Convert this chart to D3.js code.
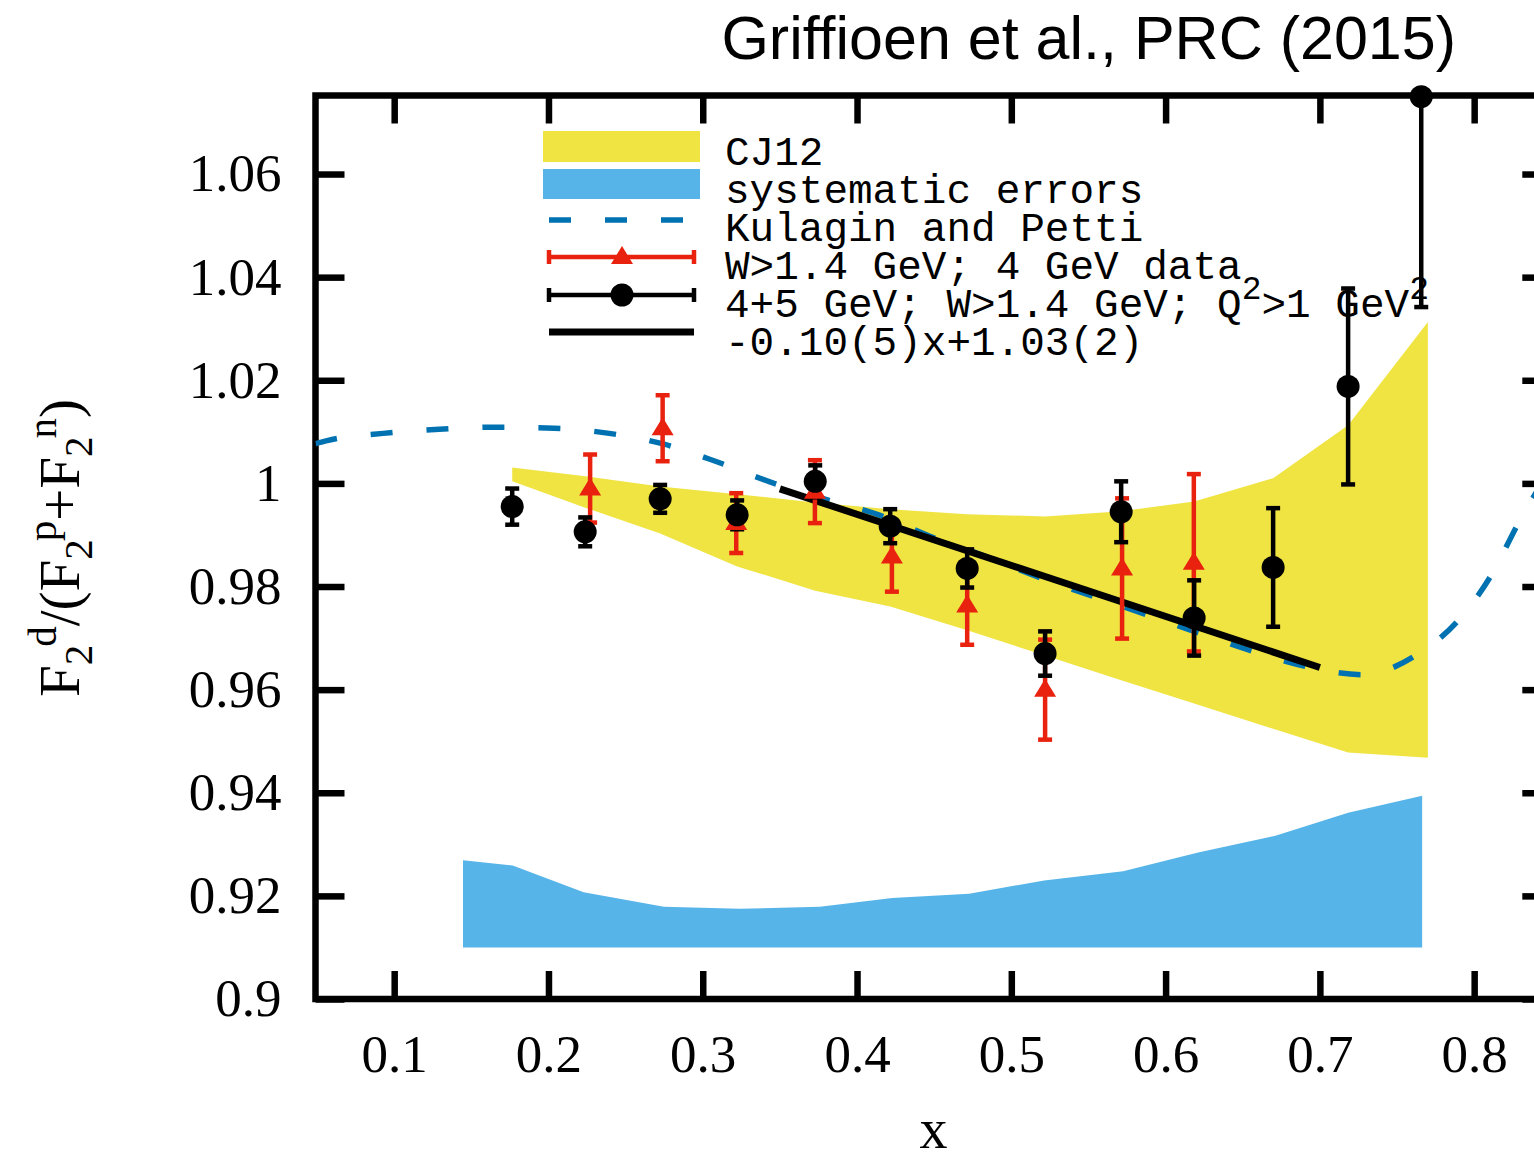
<!DOCTYPE html>
<html>
<head>
<meta charset="utf-8">
<script src="https://cdn.jsdelivr.net/npm/d3@7"></script>
<style>
  body { margin: 0; background: #ffffff; }
</style>
</head>
<body>
<svg id="chart" width="1534" height="1156"></svg>
<script>
// ---- CJ12 band (lower / upper edge of F2d/(F2p+F2n)) ----
const cj12X     = [0.1765, 0.2238, 0.2724, 0.3223, 0.3729, 0.4215, 0.4714, 0.5219, 0.5712, 0.6185, 0.6697, 0.7183, 0.770];
const cj12Upper = [1.0031, 1.0014, 0.9994, 0.9979, 0.9963, 0.9950, 0.9940, 0.9936, 0.9946, 0.9965, 1.0010, 1.0113, 1.0313];
const cj12Lower = [1.0004, 0.9953, 0.9903, 0.9839, 0.9792, 0.9761, 0.9715, 0.9666, 0.9618, 0.9573, 0.9524, 0.9478, 0.9468];

// ---- systematic error band, drawn up from a fixed base ----
const systX    = [0.1446, 0.1768, 0.2228, 0.2748, 0.3238, 0.3759, 0.4228, 0.4727, 0.5213, 0.5725, 0.6211, 0.6717, 0.7183, 0.7663];
const systTop  = [0.9269, 0.9259, 0.9207, 0.9179, 0.9175, 0.9179, 0.9196, 0.9204, 0.9230, 0.9248, 0.9284, 0.9317, 0.9361, 0.9394];
const systBase = 0.91;

// ---- Kulagin and Petti model curve ----
const kpX = [0.049, 0.0566, 0.0929, 0.1292, 0.1661, 0.2037, 0.2394, 0.2750, 0.3100, 0.3444, 0.3819, 0.4150, 0.4494,
             0.4818, 0.5187, 0.5706, 0.6224, 0.6568, 0.6937, 0.7281, 0.7618, 0.7896, 0.8117, 0.8285, 0.8500];
const kpY = [1.0077, 1.0083, 1.0097, 1.0105, 1.0109, 1.0107, 1.0097, 1.0076, 1.0041, 1.0002, 0.9967, 0.9938, 0.9895,
             0.9860, 0.9817, 0.9763, 0.9709, 0.9674, 0.9643, 0.9629, 0.9666, 0.9734, 0.9825, 0.9922, 1.0030];

// ---- W>1.4 GeV; 4 GeV data ----
const w4X   = [0.2270, 0.2740, 0.3217, 0.3727, 0.4226, 0.4714, 0.5219, 0.5718, 0.6183];
const w4Y   = [0.9990, 1.0107, 0.9923, 0.9984, 0.9858, 0.9763, 0.9600, 0.9835, 0.9846];
const w4Err = [0.0066, 0.0064, 0.0058, 0.0061, 0.0068, 0.0076, 0.0097, 0.0136, 0.0172];

// ---- 4+5 GeV; W>1.4 GeV; Q^2>1 GeV^2 ----
const comboX   = [0.1765, 0.2238, 0.2724, 0.3223, 0.3729, 0.4215, 0.4714, 0.5219, 0.5712, 0.6185, 0.6697, 0.7183, 0.7657];
const comboY   = [0.9955, 0.9906, 0.9970, 0.9939, 1.0004, 0.9917, 0.9835, 0.9670, 0.9945, 0.9739, 0.9837, 1.0188, 1.0750];
const comboErr = [0.0035, 0.0028, 0.0027, 0.0028, 0.0031, 0.0033, 0.0037, 0.0043, 0.0059, 0.0073, 0.0115, 0.0190, 0.0408];

// ---- linear fit to the 4+5 GeV points ----
const fitSlope = -0.099, fitSlopeErr = 0.05;
const fitIntercept = 1.0336, fitInterceptErr = 0.02;
const fitRange = [0.35, 0.70];

// ---- axes ----
const xTicks = [0.1, 0.2, 0.3, 0.4, 0.5, 0.6, 0.7, 0.8];
const xTickLabels = ["0.1", "0.2", "0.3", "0.4", "0.5", "0.6", "0.7", "0.8"];
const yTicks = [0.9, 0.92, 0.94, 0.96, 0.98, 1.0, 1.02, 1.04, 1.06];
const yTickLabels = ["0.9", "0.92", "0.94", "0.96", "0.98", "1", "1.02", "1.04", "1.06"];

const COLORS = { cj12: "#f0e442", syst: "#56b4e9", kp: "#0072b2", w4: "#e8220f", combo: "#000000" };
const SERIF = "'Liberation Serif', 'Times New Roman', Times, serif";
const MONO = "'Liberation Mono', 'Courier New', monospace";

const svg = d3.select("#chart");
const plot = { left: 315.5, right: 1551.3, top: 95.5, bottom: 999 };

const x = d3.scaleLinear().domain([0.049, 0.85]).range([plot.left, plot.right]);
const y = d3.scaleLinear().domain([0.9, 1.07523]).range([plot.bottom, plot.top]);

svg.append("defs").append("clipPath").attr("id", "plotClip")
  .append("rect")
  .attr("x", plot.left).attr("y", plot.top)
  .attr("width", plot.right - plot.left).attr("height", plot.bottom - plot.top);

const layer = svg.append("g");
const clipped = layer.append("g").attr("clip-path", "url(#plotClip)");

// CJ12 band
const cj12 = cj12X.map((d, i) => ({ x: d, lo: cj12Lower[i], hi: cj12Upper[i] }));
clipped.append("path")
  .datum(cj12)
  .attr("fill", COLORS.cj12)
  .attr("d", d3.area().x(d => x(d.x)).y0(d => y(d.lo)).y1(d => y(d.hi)));

// systematic error band
const syst = systX.map((d, i) => ({ x: d, top: systTop[i] }));
clipped.append("path")
  .datum(syst)
  .attr("fill", COLORS.syst)
  .attr("d", d3.area().x(d => x(d.x)).y0(y(systBase)).y1(d => y(d.top)));

// Kulagin and Petti curve
const kp = kpX.map((d, i) => ({ x: d, y: kpY[i] }));
clipped.append("path")
  .datum(kp)
  .attr("fill", "none")
  .attr("stroke", COLORS.kp)
  .attr("stroke-width", 5.5)
  .attr("stroke-dasharray", "22,34")
  .attr("d", d3.line().curve(d3.curveMonotoneX).x(d => x(d.x)).y(d => y(d.y)));

// linear fit
clipped.append("line")
  .attr("x1", x(fitRange[0])).attr("y1", y(fitSlope * fitRange[0] + fitIntercept))
  .attr("x2", x(fitRange[1])).attr("y2", y(fitSlope * fitRange[1] + fitIntercept))
  .attr("stroke", "#000").attr("stroke-width", 7);

// error bars helper
function errorBars(g, xs, ys, errs, color) {
  const data = xs.map((d, i) => ({ x: d, y: ys[i], e: errs[i] }));
  const eg = g.append("g").attr("stroke", color).attr("stroke-width", 4.5);
  eg.selectAll("line.bar").data(data).join("line").attr("class", "bar")
    .attr("x1", d => x(d.x)).attr("x2", d => x(d.x))
    .attr("y1", d => y(d.y - d.e)).attr("y2", d => y(d.y + d.e));
  eg.selectAll("line.lo").data(data).join("line").attr("class", "lo")
    .attr("x1", d => x(d.x) - 7).attr("x2", d => x(d.x) + 7)
    .attr("y1", d => y(d.y - d.e)).attr("y2", d => y(d.y - d.e));
  eg.selectAll("line.hi").data(data).join("line").attr("class", "hi")
    .attr("x1", d => x(d.x) - 7).attr("x2", d => x(d.x) + 7)
    .attr("y1", d => y(d.y + d.e)).attr("y2", d => y(d.y + d.e));
  return data;
}

const trianglePath = "M0,-11L11,7L-11,7Z";

// 4 GeV data
const w4 = errorBars(clipped, w4X, w4Y, w4Err, COLORS.w4);
layer.append("g").selectAll("path").data(w4).join("path")
  .attr("d", trianglePath)
  .attr("transform", d => `translate(${x(d.x)},${y(d.y)})`)
  .attr("fill", COLORS.w4);

// 4+5 GeV data
const combo = errorBars(clipped, comboX, comboY, comboErr, COLORS.combo);
layer.append("g").selectAll("circle").data(combo).join("circle")
  .attr("cx", d => x(d.x)).attr("cy", d => y(d.y)).attr("r", 11.5)
  .attr("fill", COLORS.combo);

// ---- frame and axes ----
function styleAxis(g) {
  g.select(".domain").remove();
  g.selectAll(".tick line").attr("stroke", "#000").attr("stroke-width", 6.5);
  g.selectAll(".tick text").attr("fill", "#000");
  g.attr("font-family", SERIF).attr("font-size", 53);
}

svg.append("g")
  .attr("transform", `translate(0,${plot.bottom})`)
  .call(d3.axisBottom(x).tickValues(xTicks).tickFormat((d, i) => xTickLabels[i])
    .tickSize(-28).tickSizeOuter(0).tickPadding(35))
  .call(styleAxis);

svg.append("g")
  .attr("transform", `translate(${plot.left},0)`)
  .call(d3.axisLeft(y).tickValues(yTicks).tickFormat((d, i) => yTickLabels[i])
    .tickSize(-29).tickSizeOuter(0).tickPadding(34))
  .call(styleAxis);

svg.append("g")
  .attr("transform", `translate(0,${plot.top})`)
  .call(d3.axisTop(x).tickValues(xTicks).tickFormat("").tickSize(-28).tickSizeOuter(0))
  .call(styleAxis);

svg.append("g")
  .attr("transform", `translate(${plot.right},0)`)
  .call(d3.axisRight(y).tickValues(yTicks).tickFormat("").tickSize(-29).tickSizeOuter(0))
  .call(styleAxis);

svg.append("rect")
  .attr("x", plot.left).attr("y", plot.top)
  .attr("width", plot.right - plot.left).attr("height", plot.bottom - plot.top)
  .attr("fill", "none").attr("stroke", "#000").attr("stroke-width", 6.5);

// last point sits on the top edge, drawn above the frame
layer.raise();

// ---- axis titles ----
svg.append("text")
  .attr("x", (plot.left + plot.right) / 2).attr("y", 1148)
  .attr("text-anchor", "middle")
  .attr("font-family", SERIF).attr("font-size", 56)
  .text("x");

const yTitle = svg.append("text")
  .attr("transform", "translate(79,548) rotate(-90)")
  .attr("text-anchor", "middle")
  .attr("font-family", SERIF).attr("font-size", 57);
const MAIN = 57, SCRIPT = 41;
[
  ["F", MAIN, 0, 0], ["2", SCRIPT, 13, 0], ["d", SCRIPT, -36, -2],
  ["/(", MAIN, 23, 0],
  ["F", MAIN, 0, 0], ["2", SCRIPT, 13, 0], ["p", SCRIPT, -36, -2],
  ["+", MAIN, 23, 0],
  ["F", MAIN, 0, 0], ["2", SCRIPT, 13, 0], ["n", SCRIPT, -36, -2],
  [")", MAIN, 23, 0]
].forEach(([t, fs, dy, dx]) => {
  yTitle.append("tspan").attr("font-size", fs).attr("dy", dy).attr("dx", dx).text(t);
});

// ---- title ----
svg.append("text")
  .attr("x", 1456).attr("y", 59)
  .attr("text-anchor", "end")
  .attr("font-family", "'Liberation Sans', Arial, Helvetica, sans-serif")
  .attr("font-size", 61)
  .text("Griffioen et al., PRC (2015)");

// ---- legend ----
const legend = svg.append("g");
const legX0 = 549, legX1 = 694, legMid = 622, textX = 725;
const rowY = i => 151 + 38 * i;     // sample centre line of each row
const baseY = i => 165 + 38 * i;    // text baseline of each row

legend.append("rect").attr("x", 543).attr("y", 131).attr("width", 157).attr("height", 31).attr("fill", COLORS.cj12);
legend.append("rect").attr("x", 543).attr("y", 169).attr("width", 157).attr("height", 30).attr("fill", COLORS.syst);
legend.append("line").attr("x1", legX0).attr("x2", 690).attr("y1", rowY(2) - 7).attr("y2", rowY(2) - 7)
  .attr("stroke", COLORS.kp).attr("stroke-width", 5.5).attr("stroke-dasharray", "22,34");

function legendErr(i, color) {
  const yy = rowY(i) - 8;
  const g = legend.append("g").attr("stroke", color).attr("stroke-width", 4.5);
  g.append("line").attr("x1", legX0).attr("x2", legX1).attr("y1", yy).attr("y2", yy);
  g.append("line").attr("x1", legX0).attr("x2", legX0).attr("y1", yy - 7).attr("y2", yy + 7);
  g.append("line").attr("x1", legX1).attr("x2", legX1).attr("y1", yy - 7).attr("y2", yy + 7);
  return yy;
}
const yRed = legendErr(3, COLORS.w4);
legend.append("path").attr("d", trianglePath).attr("transform", `translate(${legMid},${yRed})`).attr("fill", COLORS.w4);
const yBlack = legendErr(4, COLORS.combo);
legend.append("circle").attr("cx", legMid).attr("cy", yBlack).attr("r", 11.5).attr("fill", COLORS.combo);
legend.append("line").attr("x1", legX0).attr("x2", legX1).attr("y1", rowY(5) - 9).attr("y2", rowY(5) - 9)
  .attr("stroke", "#000").attr("stroke-width", 7);

const fmtErr = (v) => Math.round(v * 100);
const fitLabel = `${fitSlope.toFixed(2)}(${fmtErr(fitSlopeErr)})x+${fitIntercept.toFixed(2)}(${fmtErr(fitInterceptErr)})`;

const legendText = legend.append("g").attr("font-family", MONO).attr("font-size", 41).attr("fill", "#000");
legendText.append("text").attr("x", textX).attr("y", baseY(0)).text("CJ12");
legendText.append("text").attr("x", textX).attr("y", baseY(1)).text("systematic errors");
legendText.append("text").attr("x", textX).attr("y", baseY(2)).text("Kulagin and Petti");
legendText.append("text").attr("x", textX).attr("y", baseY(3)).text("W>1.4 GeV; 4 GeV data");
const row5 = legendText.append("text").attr("x", textX).attr("y", baseY(4)).attr("xml:space", "preserve");
row5.append("tspan").text("4+5 GeV; W>1.4 GeV; Q");
row5.append("tspan").attr("font-size", 33).attr("dy", -18).text("2");
row5.append("tspan").attr("dy", 18).text(">1 GeV");
row5.append("tspan").attr("font-size", 33).attr("dy", -18).text("2");
legendText.append("text").attr("x", textX).attr("y", baseY(5)).text(fitLabel);
</script>
</body>
</html>
